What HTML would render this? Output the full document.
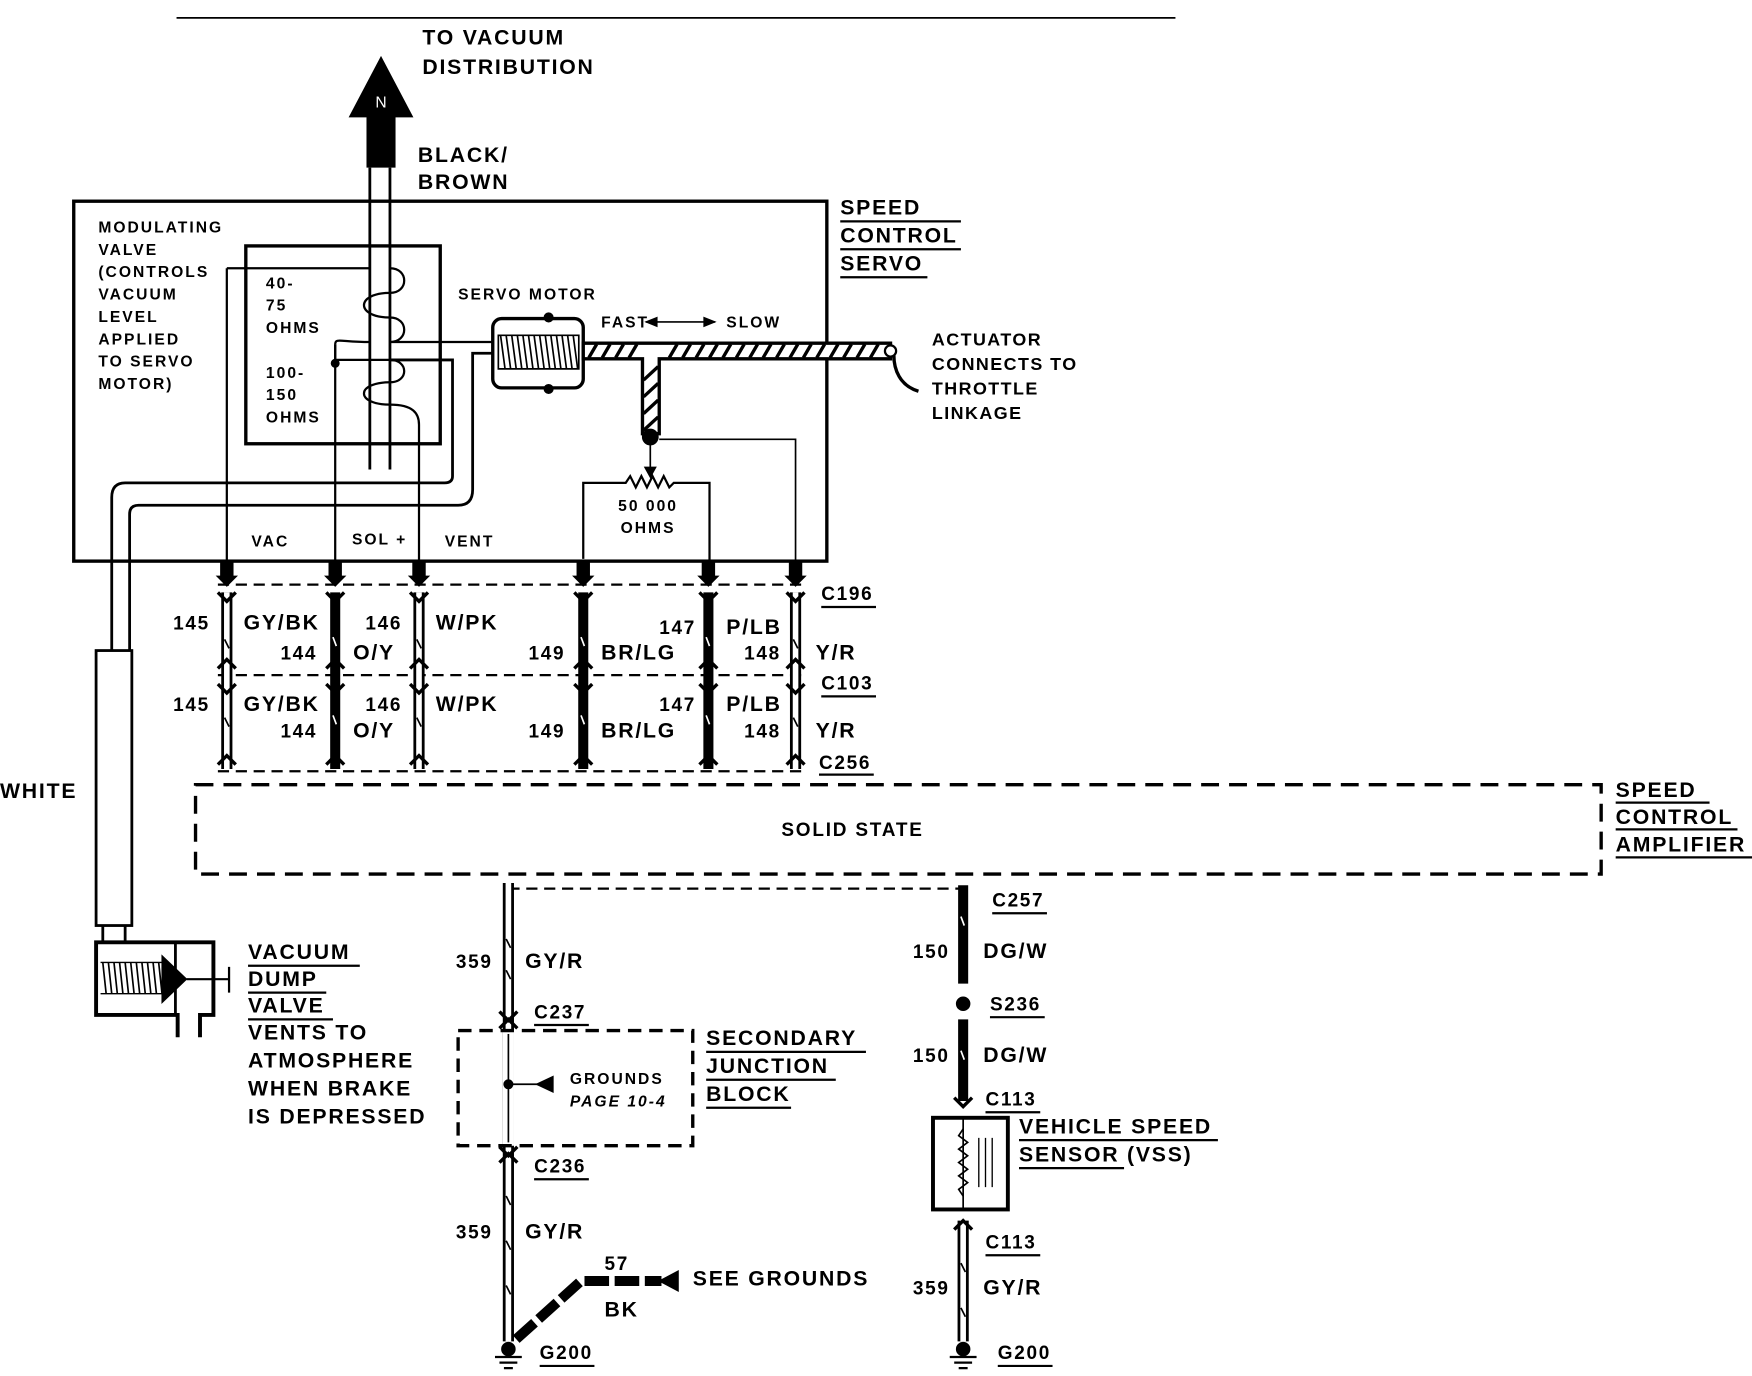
<!DOCTYPE html>
<html><head><meta charset="utf-8"><style>
html,body{margin:0;padding:0;background:#fff;}
svg{display:block;}
text{font-family:"Liberation Sans",sans-serif;font-weight:bold;fill:#000;}
.s{font-size:14px;font-weight:normal;letter-spacing:1.8px;}
.m{font-size:19px;letter-spacing:1.6px;}
.n{font-size:17px;letter-spacing:1.5px;}
</style></head><body>
<svg width="1752" height="1376" viewBox="0 0 1568 1231" preserveAspectRatio="none" xmlns="http://www.w3.org/2000/svg">
<rect width="1568" height="1231" fill="#fff"/>
<g stroke="#000" fill="none">
<line x1="158" y1="16" x2="1052" y2="16" stroke-width="1.5"/>
<rect x="66" y="180" width="674" height="322" stroke-width="3"/>
<rect x="220" y="220" width="174" height="177" stroke-width="3"/>
<line x1="331" y1="150" x2="331" y2="420" stroke-width="2.5"/>
<line x1="349" y1="150" x2="349" y2="420" stroke-width="2.5"/>
<path d="M203 240 H330 M349 240 C366 240 366 262 349 262 C318 262 318 284 349 284 C366 284 366 306 349 306 H440" stroke-width="2"/>
<path d="M300 308 V322 M300 322 H349 C366 322 366 342 349 342 C318 342 318 362 349 362 C370 362 375 370 375 380 V515" stroke-width="2"/>
<path d="M300 308 C300 302 305 306 331 306" stroke-width="2"/>
<circle cx="300" cy="325" r="3.5" fill="#000"/>
<line x1="203" y1="240" x2="203" y2="515" stroke-width="2"/>
<line x1="300" y1="308" x2="300" y2="515" stroke-width="2"/>
<path d="M349 322 H405 V426 Q405 432 398 432 H112 Q100 432 100 445 V582" stroke-width="2.5"/>
<path d="M440 316 H423 V438 Q423 452 410 452 H124 Q116 452 116 460 V582" stroke-width="2.5"/>
<rect x="86" y="582" width="32" height="246" stroke-width="2.5"/>
<path d="M92 828 V843 M112 828 V843" stroke-width="2.5"/>
<rect x="441" y="285" width="81" height="62" rx="8" stroke-width="3"/>
<path d="M446 300 H518 V330 H446 Z" stroke-width="1.5"/>
<path d="M448 300 L452 330 M453 300 L457 330 M458 300 L462 330 M463 300 L467 330 M468 300 L472 330 M473 300 L477 330 M478 300 L482 330 M483 300 L487 330 M488 300 L492 330 M493 300 L497 330 M498 300 L502 330 M503 300 L507 330 M508 300 L512 330 M513 300 L517 330" stroke-width="1.5"/>
<circle cx="491" cy="284" r="4" fill="#000"/><circle cx="491" cy="348" r="4" fill="#000"/>
<path d="M522 307 H797 V321 H590 V388 H575 V321 H522 Z" fill="#fff" stroke-width="3"/>
<path d="M527 320 L534 308 M539 320 L546 308 M551 320 L558 308 M563 320 L570 308 M599 320 L606 308 M611 320 L618 308 M623 320 L630 308 M635 320 L642 308 M647 320 L654 308 M659 320 L666 308 M671 320 L678 308 M683 320 L690 308 M695 320 L702 308 M707 320 L714 308 M719 320 L726 308 M731 320 L738 308 M743 320 L750 308 M755 320 L762 308 M767 320 L774 308 M779 320 L786 308 M576 340 L589 328 M576 355 L589 343 M576 370 L589 358 M576 385 L589 373" stroke-width="3"/>
<circle cx="797" cy="314" r="5" fill="#fff" stroke-width="2"/>
<path d="M800 318 C800 330 805 345 822 350" stroke-width="3"/>
<circle cx="582" cy="391" r="7" fill="#000"/>
<path d="M582 395 V422" stroke-width="1.5"/>
<path d="M577 418 L582 427 L587 418 Z" fill="#000"/>
<path d="M522 500 V432 H560 L564 426 L569 436 L574 426 L579 436 L584 426 L589 436 L594 426 L599 436 L603 432 H635 V515" stroke-width="2"/>
<path d="M590 393 H712 V515" stroke-width="1.5"/>
<path d="M578 288 H640" stroke-width="1.5"/>
<path d="M578 288 l10 -4 v8 Z M640 288 l-10 -4 v8 Z" fill="#000"/>
<g fill="#000" stroke="none">
<rect x="197" y="502" width="12" height="14"/><rect x="294" y="502" width="12" height="14"/><rect x="369" y="502" width="12" height="14"/>
<rect x="516" y="502" width="12" height="14"/><rect x="628" y="502" width="12" height="14"/><rect x="706" y="502" width="12" height="14"/>
<path d="M193 515 h20 l-10 10 Z M290 515 h20 l-10 10 Z M365 515 h20 l-10 10 Z M512 515 h20 l-10 10 Z M624 515 h20 l-10 10 Z M702 515 h20 l-10 10 Z"/>
</g>
<g stroke-width="2" stroke-dasharray="10 6">
<line x1="195" y1="523" x2="722" y2="523"/>
<line x1="195" y1="604" x2="722" y2="604"/>
<line x1="195" y1="690" x2="722" y2="690"/>
<line x1="455" y1="795" x2="862" y2="795"/>
</g>
<g>
<path d="M203 530 V688 M375 530 V688 M712 530 V688" stroke-width="10"/>
<path d="M203 530 V688 M375 530 V688 M712 530 V688" stroke="#fff" stroke-width="5"/>
<path d="M300 530 V688 M522 530 V688 M634 530 V688" stroke-width="9"/>
<path d="M201 572 l4 8 M373 572 l4 8 M710 572 l4 8 M201 642 l4 8 M373 642 l4 8 M710 642 l4 8" stroke-width="1.5"/>
<path d="M298 570 l3 8 M520 570 l3 8 M632 570 l3 8 M298 640 l3 8 M520 640 l3 8 M632 640 l3 8" stroke="#fff" stroke-width="1.5"/>
<path d="M195 530 L203 538 L211 530 M195 612 L203 620 L211 612 M195 598 L203 590 L211 598 M195 684 L203 676 L211 684 M292 530 L300 538 L308 530 M292 612 L300 620 L308 612 M292 598 L300 590 L308 598 M292 684 L300 676 L308 684 M367 530 L375 538 L383 530 M367 612 L375 620 L383 612 M367 598 L375 590 L383 598 M367 684 L375 676 L383 684 M514 530 L522 538 L530 530 M514 612 L522 620 L530 612 M514 598 L522 590 L530 598 M514 684 L522 676 L530 684 M626 530 L634 538 L642 530 M626 612 L634 620 L642 612 M626 598 L634 590 L642 598 M626 684 L634 676 L642 684 M704 530 L712 538 L720 530 M704 612 L712 620 L720 612 M704 598 L712 590 L720 598 M704 684 L712 676 L720 684" stroke-width="3"/>
</g>
<g stroke-width="2"><path d="M735 543 H784 M735 623 H784 M733 693 H782"/></g>
<rect x="175" y="702" width="1258" height="80" stroke-width="3" stroke-dasharray="16 9"/>
<path d="M455 790 V1200 M862 1092 V1200" stroke-width="10"/>
<path d="M455 790 V1200 M862 1092 V1200" stroke="#fff" stroke-width="5"/>
<path d="M453 840 l4 8 M453 868 l4 8 M453 1070 l4 8 M453 1110 l4 8 M453 1150 l4 8 M860 1130 l4 8 M860 1170 l4 8" stroke-width="1.5"/>
<path d="M862 792 V880 M862 912 V985" stroke-width="9"/>
<path d="M860 820 l3 8 M860 940 l3 8" stroke="#fff" stroke-width="1.5"/>
<circle cx="862" cy="898" r="6" fill="#000"/>
<path d="M447 905 L455 913 L463 905 M447 1040 L455 1032 L463 1040 M447 920 L455 912 L463 920 M447 1026 L455 1034 L463 1026 M854 982 L862 990 L870 982 M854 1100 L862 1092 L870 1100" stroke-width="3"/>
<path d="M455 922 V1025" stroke="#fff" stroke-width="10"/>
<path d="M455 925 V1022" stroke-width="1.5"/>
<circle cx="455" cy="970" r="4" fill="#000"/>
<path d="M455 970 H482" stroke-width="1.5"/>
<path d="M480 970 L495 963 V977 Z" fill="#000"/>
<rect x="410" y="922" width="210" height="103" stroke-width="3" stroke-dasharray="12 7"/>
<path d="M478 917 H527 M478 1055 H527 M888 817 H937 M886 910 H935 M882 995 H931 M882 1123 H931 M483 1222 H532 M893 1222 H942" stroke-width="2"/>
<rect x="835" y="1000" width="67" height="82" stroke-width="3.5"/>
<path d="M862 1000 V1082" stroke-width="1.5"/>
<path d="M862 1010 l-4 6 l8 6 l-8 6 l8 6 l-8 6 l8 6 l-8 6 l8 6 l-8 6 l4 6" stroke-width="1.5"/>
<path d="M876 1018 V1062 M882 1018 V1062 M888 1018 V1062" stroke-width="1.2"/>
<circle cx="455" cy="1207" r="6" fill="#000"/><circle cx="862" cy="1207" r="6" fill="#000"/>
<path d="M443 1214 H467 M447 1219 H463 M451 1224 H459 M850 1214 H874 M854 1219 H870 M858 1224 H866" stroke-width="2"/>
<path d="M462 1198 L520 1146 H592" stroke-width="9" stroke-dasharray="22 5"/>
<path d="M590 1146 L607 1137 V1155 Z" fill="#000"/>
<!-- dump valve -->
<path d="M159 928 V908 H86 V843 H191 V908 H179 V928" stroke-width="3.5"/>
<line x1="157" y1="843" x2="157" y2="908" stroke-width="2.5"/>
<path d="M90 861 H148 M90 889 H148" stroke-width="1.2"/>
<path d="M92 861 l3 28 M97 861 l3 28 M102 861 l3 28 M107 861 l3 28 M112 861 l3 28 M117 861 l3 28 M122 861 l3 28 M127 861 l3 28 M132 861 l3 28 M137 861 l3 28 M142 861 l3 28" stroke-width="1.5"/>
<path d="M145 855 L167 876 L145 897 Z" fill="#000"/>
<path d="M167 876 H205 M205 865 V888" stroke-width="2"/>
<path d="M222 864 H322 M222 888 H292 M222 912 H298 M752 198 H860 M752 223 H860 M752 248 H830 M1446 718 H1530 M1446 742 H1555 M1446 767 H1568 M632 941 H775 M632 966 H748 M632 991 H708 M912 1020 H1090 M912 1045 H1006" stroke-width="2"/>
</g>
<path d="M341 50 L370 105 H354 V150 H328 V105 H312 Z" fill="#000"/>
<text x="341" y="96" text-anchor="middle" style="font-size:14px;fill:#fff;font-weight:normal">N</text>
<g class="m">
<text x="378" y="40">TO VACUUM</text><text x="378" y="66">DISTRIBUTION</text>
<text x="374" y="145">BLACK/</text><text x="374" y="169">BROWN</text>
<text x="752" y="192">SPEED</text><text x="752" y="217">CONTROL</text><text x="752" y="242">SERVO</text>
<text x="0" y="714">WHITE</text>
<text x="222" y="858">VACUUM</text><text x="222" y="882">DUMP</text><text x="222" y="906">VALVE</text>
<text x="222" y="930">VENTS TO</text><text x="222" y="955">ATMOSPHERE</text><text x="222" y="980">WHEN BRAKE</text><text x="222" y="1005">IS DEPRESSED</text>
<text x="1446" y="713">SPEED</text><text x="1446" y="737">CONTROL</text><text x="1446" y="762">AMPLIFIER</text>
<text x="632" y="935">SECONDARY</text><text x="632" y="960">JUNCTION</text><text x="632" y="985">BLOCK</text>
<text x="912" y="1014">VEHICLE SPEED</text><text x="912" y="1039">SENSOR (VSS)</text>
<text x="620" y="1150">SEE GROUNDS</text>
<text x="218" y="563">GY/BK</text><text x="390" y="563">W/PK</text><text x="650" y="567">P/LB</text>
<text x="316" y="590">O/Y</text><text x="538" y="590">BR/LG</text><text x="730" y="590">Y/R</text>
<text x="218" y="636">GY/BK</text><text x="390" y="636">W/PK</text><text x="650" y="636">P/LB</text>
<text x="316" y="660">O/Y</text><text x="538" y="660">BR/LG</text><text x="730" y="660">Y/R</text>
<text x="763" y="748" text-anchor="middle" style="font-size:17px">SOLID STATE</text>
<text x="470" y="866">GY/R</text><text x="880" y="857">DG/W</text><text x="880" y="950">DG/W</text>
<text x="470" y="1108">GY/R</text><text x="880" y="1158">GY/R</text><text x="541" y="1178">BK</text>
</g>
<g class="n">
<text x="155" y="563">145</text><text x="327" y="563">146</text><text x="590" y="567">147</text>
<text x="251" y="590">144</text><text x="473" y="590">149</text><text x="666" y="590">148</text>
<text x="155" y="636">145</text><text x="327" y="636">146</text><text x="590" y="636">147</text>
<text x="251" y="660">144</text><text x="473" y="660">149</text><text x="666" y="660">148</text>
<text x="735" y="537">C196</text><text x="735" y="617">C103</text><text x="733" y="688">C256</text>
<text x="408" y="866">359</text><text x="817" y="857">150</text><text x="817" y="950">150</text>
<text x="888" y="811">C257</text><text x="886" y="904">S236</text><text x="882" y="989">C113</text>
<text x="478" y="911">C237</text><text x="478" y="1049">C236</text>
<text x="408" y="1108">359</text><text x="817" y="1158">359</text><text x="882" y="1117">C113</text>
<text x="541" y="1136">57</text><text x="483" y="1216">G200</text><text x="893" y="1216">G200</text>
</g>
<g class="s">
<text x="88" y="208">MODULATING</text><text x="88" y="228">VALVE</text><text x="88" y="248">(CONTROLS</text><text x="88" y="268">VACUUM</text>
<text x="88" y="288">LEVEL</text><text x="88" y="308">APPLIED</text><text x="88" y="328">TO SERVO</text><text x="88" y="348">MOTOR)</text>
<text x="238" y="258">40-</text><text x="238" y="278">75</text><text x="238" y="298">OHMS</text>
<text x="238" y="338">100-</text><text x="238" y="358">150</text><text x="238" y="378">OHMS</text>
<text x="410" y="268">SERVO MOTOR</text>
<text x="538" y="293">FAST</text><text x="650" y="293">SLOW</text>
<text x="580" y="457" text-anchor="middle">50 000</text><text x="580" y="477" text-anchor="middle">OHMS</text>
<text x="225" y="489">VAC</text><text x="315" y="487">SOL +</text><text x="398" y="489">VENT</text>
<text x="510" y="970">GROUNDS</text><text x="510" y="990" style="font-style:italic">PAGE 10-4</text>
</g>
<g style="font-size:16px;font-weight:normal;letter-spacing:1.3px">
<text x="834" y="309">ACTUATOR</text><text x="834" y="331">CONNECTS TO</text><text x="834" y="353">THROTTLE</text><text x="834" y="375">LINKAGE</text>
</g>
</svg>
</body></html>
